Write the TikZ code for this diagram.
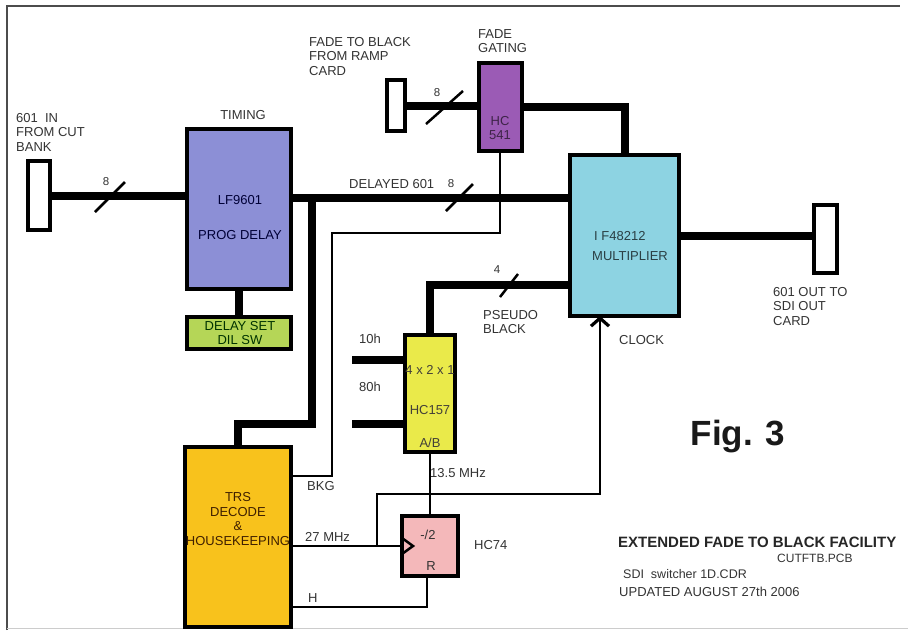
\documentclass[tikz,border=0pt]{standalone}
\usepackage{fontspec}
\setmainfont{Liberation Sans}
\usetikzlibrary{arrows.meta}
\definecolor{lav}{HTML}{8C8FD6}
\definecolor{dsgreen}{HTML}{B5D657}
\definecolor{hcpurple}{HTML}{9B5BB5}
\definecolor{multblue}{HTML}{8DD3E2}
\definecolor{muxyellow}{HTML}{EAEA4A}
\definecolor{trsorange}{HTML}{F8C21C}
\definecolor{ffpink}{HTML}{F4B8BA}
\definecolor{txt}{HTML}{333333}
\tikzset{
  box/.style={draw=black, line width=4pt, anchor=north west, inner sep=0pt, outer sep=0pt},
  port/.style={draw=black, line width=3.5pt, fill=white, anchor=north west, inner sep=0pt, outer sep=0pt},
  bus/.style={line width=8pt, draw=black},
  wire/.style={line width=2.5pt, draw=black},
  slashmark/.style={line width=2.5pt, draw=black},
  lbl/.style={font=\fontsize{13}{14.5}\selectfont, inner sep=0pt, text=txt, align=left},
  clbl/.style={font=\fontsize{13}{14.5}\selectfont, inner sep=0pt, text=txt, align=center},
  small/.style={font=\fontsize{11.5}{13}\selectfont, inner sep=0pt, text=txt}
}
\begin{document}
\begin{tikzpicture}[x=1pt,y=-1pt]
\useasboundingbox (0,0) rectangle (908,630);
% frame
\draw[line width=1.5pt, draw=black!70] (7,630) -- (7,6) -- (900,6);
\draw[line width=1pt, draw=black!20] (7,628) -- (908,628);

% coordinates
\coordinate (j1) at (312,198);
\coordinate (c1) at (625,0);
\coordinate (p1) at (0,285);
\coordinate (i10) at (352,360);
\coordinate (i80) at (352,424);
\coordinate (b1) at (377,546);
\coordinate (ck) at (600,494);
\coordinate (bk1) at (332,233);
\coordinate (bk2) at (332,476);
\coordinate (hline) at (0,607);
\coordinate (dv) at (312,424);

% connectors (drawn under boxes)
\draw[bus] (j1) -- (dv) -| (238,447);
\draw[wire] (500,151) |- (bk1) -- (bk2) -- (bk2 -| 291,0);

% boxes
\node[port, minimum width=22pt, minimum height=69pt] (in) at (28,161) {};
\node[box, fill=lav, minimum width=104pt, minimum height=160pt] (lf) at (187,129) {};
\node[box, fill=dsgreen, minimum width=104pt, minimum height=32pt] (ds) at (187,317) {};
\node[port, minimum width=18pt, minimum height=51pt] (ftb) at (387,80) {};
\node[box, fill=hcpurple, minimum width=43pt, minimum height=88pt] (hc541) at (479,63) {};
\node[box, fill=multblue, minimum width=109pt, minimum height=161pt] (mult) at (570,155) {};
\node[port, minimum width=23pt, minimum height=68pt] (out) at (814,205) {};
\node[box, fill=muxyellow, minimum width=50pt, minimum height=117pt] (hc157) at (405,335) {};
\node[box, fill=ffpink, minimum width=56pt, minimum height=60pt] (hc74) at (402,516) {};
\node[box, fill=trsorange, minimum width=106pt, minimum height=180pt] (trs) at (185,447) {};

% buses
\draw[bus] (in.east) -- (in.east -| lf.west);
\draw[bus] (lf.east |- j1) -- (mult.west |- j1);
\draw[bus] (lf.south) -- (ds.north);
\draw[bus] (ftb.east) -- (ftb.east -| hc541.west);
\draw[bus] (hc541.east) -| (c1 |- mult.north);
\draw[bus] (mult.east) -- (mult.east -| out.west);
\draw[bus] (hc157.north) |- (mult.west |- p1);
\draw[bus] (i10) -- (i10 -| hc157.west);
\draw[bus] (i80) -- (i80 -| hc157.west);

% thin wires
\draw[wire] (hc157.south) -- (hc74.north);
\draw[wire] (hc74.west -| trs.east) -- (hc74.west);
\draw[wire, -{Straight Barb[length=8pt,width=18pt,line width=3.2pt]}] (b1) |- (ck) -- (ck |- mult.south);
\draw[wire] ([xshift=-3pt]hc74.south) |- (hline -| trs.east);
\draw[line width=2.5pt, line join=miter] (402,538) -- (413,546) -- (402,554);

% slash marks
\draw[slashmark] (95,212) -- (125,182);
\draw[slashmark] (446,211) -- (473,184);
\draw[slashmark] (426,124) -- (463,91);
\draw[slashmark] (500,297) -- (518,274);

% labels
\node[lbl, anchor=north west] (tin) at (16,113) {601\ \ IN\\FROM CUT\\BANK};
\node[clbl] (ttim) at (243,115) {TIMING};
\node[clbl, text=black!65!blue!60!black] (tlf1) at (240,200) {LF9601};
\node[clbl, text=black!65!blue!60!black] (tlf2) at (240,235) {PROG DELAY};
\node[clbl, text=black!80!green] (tds) at (240,333) {DELAY SET\\DIL SW};
\node[lbl, anchor=north west] (tftb) at (309,37) {FADE TO BLACK\\FROM RAMP\\CARD};
\node[lbl, anchor=north west] (tfg) at (478,29) {FADE\\GATING};
\node[clbl, text=hcpurple!40!black] (thc541) at (500,128) {HC\\541};
\node[lbl, anchor=west] (tdel) at (349,184) {DELAYED 601};
\node[small] (e1) at (106,182) {8};
\node[small] (e2) at (451,184) {8};
\node[small] (e3) at (437,93) {8};
\node[small] (e4) at (497,270) {4};
\node[lbl, anchor=west, text=multblue!30!black] (tm1) at (594,236) {I F48212};
\node[lbl, anchor=west, text=multblue!30!black] (tm2) at (592,256) {MULTIPLIER};
\node[lbl, anchor=north west] (tout) at (773,287) {601 OUT TO\\SDI OUT\\CARD};
\node[lbl, anchor=west] (tclk) at (619,340) {CLOCK};
\node[lbl, anchor=north west] (tpb) at (483,310) {PSEUDO\\BLACK};
\node[lbl, anchor=west] (t10) at (359,339) {10h};
\node[lbl, anchor=west] (t80) at (359,387) {80h};
\node[clbl, text=black!85!yellow] (tm1a) at (430,370) {4 x 2 x 1};
\node[clbl, text=black!85!yellow] (tm1b) at (430,410) {HC157};
\node[clbl, text=black!85!yellow] (tm1c) at (430,443) {A/B};
\node[lbl, anchor=west] (t135) at (430,473) {13.5 MHz};
\node[lbl, anchor=west] (tbkg) at (307,486) {BKG};
\node[clbl, text=black!75!orange] (ttrs) at (238,519) {TRS\\DECODE\\\&\\HOUSEKEEPING};
\node[lbl, anchor=west] (t27) at (305,537) {27 MHz};
\node[lbl, anchor=west] (th) at (308,598) {H};
\node[clbl] (tdiv) at (428,535) {-/2};
\node[clbl] (tr) at (431,566) {R};
\node[lbl, anchor=west] (thc74) at (474,545) {HC74};
\node[inner sep=0pt, font=\fontsize{35}{40}\selectfont\bfseries, text=black!90] (fig) at (738,437) {Fig. 3};
\node[inner sep=0pt, anchor=west, font=\fontsize{15}{17}\selectfont\bfseries, text=black!85] (ttitle) at (618,542) {EXTENDED FADE TO BLACK FACILITY};
\node[inner sep=0pt, anchor=west, font=\fontsize{12}{14}\selectfont, text=txt] (tpcb) at (777,558) {CUTFTB.PCB};
\node[inner sep=0pt, anchor=west, font=\fontsize{12.5}{14}\selectfont, text=txt] (tcdr) at (623,574) {SDI\ \ switcher 1D.CDR};
\node[inner sep=0pt, anchor=west, font=\fontsize{13}{14}\selectfont, text=txt] (tupd) at (619,592) {UPDATED AUGUST 27th 2006};
\end{tikzpicture}
\end{document}
